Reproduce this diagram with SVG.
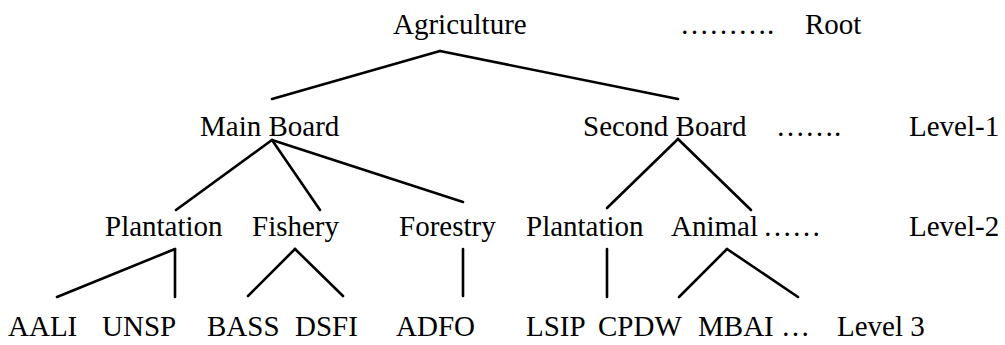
<svg xmlns="http://www.w3.org/2000/svg" width="1005" height="345" viewBox="0 0 1005 345">
<style>
text{font-family:"Liberation Serif","Times New Roman",serif;font-size:29px;fill:#000}
.c line{stroke:#000;stroke-width:2.6;stroke-linecap:round}
</style>
<rect width="1005" height="345" fill="#fff"/>
<g class="c" id="connectors">
<line x1="440" y1="51" x2="272" y2="99"/>
<line x1="440" y1="51" x2="678" y2="99"/>
<line x1="272" y1="140" x2="176" y2="210"/>
<line x1="272" y1="140" x2="320" y2="210"/>
<line x1="272" y1="140" x2="463" y2="202"/>
<line x1="678" y1="139" x2="607" y2="208"/>
<line x1="678" y1="139" x2="751" y2="210"/>
<line x1="175" y1="249" x2="57" y2="297"/>
<line x1="175" y1="249" x2="175" y2="297"/>
<line x1="295" y1="249" x2="248" y2="296"/>
<line x1="295" y1="249" x2="343" y2="296"/>
<line x1="463" y1="249" x2="463" y2="296"/>
<line x1="607" y1="249" x2="607" y2="297"/>
<line x1="727" y1="249" x2="679" y2="297"/>
<line x1="727" y1="249" x2="798" y2="297"/>
</g>
<g id="agriculture"><text x="393" y="34">Agriculture</text></g>
<g id="root-label"><text x="680" y="34">……….</text><text x="805" y="34">Root</text></g>
<g id="main-board"><text x="200" y="136">Main Board</text></g>
<g id="second-board"><text x="583" y="136">Second Board</text><text x="776" y="136">…….</text></g>
<g id="level1"><text x="909" y="136">Level-1</text></g>
<g id="plantation1"><text x="105" y="236">Plantation</text></g>
<g id="fishery"><text x="252" y="236">Fishery</text></g>
<g id="forestry"><text x="399" y="236">Forestry</text></g>
<g id="plantation2"><text x="526" y="236">Plantation</text></g>
<g id="animal"><text x="671" y="236">Animal</text><text x="763" y="236">……</text></g>
<g id="level2"><text x="909" y="236">Level-2</text></g>
<g id="aali"><text x="8" y="336">AALI</text></g>
<g id="unsp"><text x="102" y="336">UNSP</text></g>
<g id="bass"><text x="207" y="336">BASS</text></g>
<g id="dsfi"><text x="295" y="336">DSFI</text></g>
<g id="adfo"><text x="396" y="336">ADFO</text></g>
<g id="lsip"><text x="526" y="336">LSIP</text></g>
<g id="cpdw"><text x="598" y="336">CPDW</text></g>
<g id="mbai"><text x="698" y="336">MBAI …</text></g>
<g id="level3"><text x="837" y="336">Level 3</text></g>
</svg>
